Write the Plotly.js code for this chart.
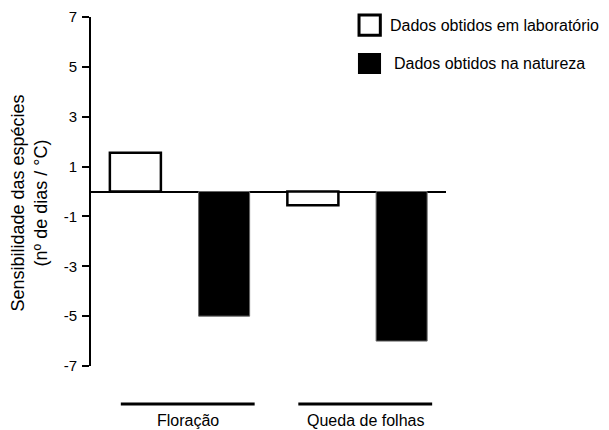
<!DOCTYPE html>
<html>
<head>
<meta charset="utf-8">
<script src="https://cdn.plot.ly/plotly-3.0.1.min.js"></script>
<style>html,body{margin:0;padding:0;background:#fff;}#chart{width:609px;height:430px;}</style>
</head>
<body>
<div id="chart"></div>
<script>
const categories = ["Floração", "Queda de folhas"];
const seriesNames = ["Dados obtidos em laboratório", "Dados obtidos na natureza"];
const labValues = [1.55, -0.55];
const natureValues = [-5.0, -6.0];
const yTickVals = [-7, -5, -3, -1, 1, 3, 5, 7];
const yTitle = "Sensibilidade das espécies<br>(nº de dias / °C)";

const FONT = "Arial, 'Liberation Sans', sans-serif";

const traces = [
  {
    type: "bar", name: seriesNames[0], x: categories, y: labValues,
    marker: {color: "#ffffff", line: {color: "#000000", width: 2.5}},
    showlegend: false, hoverinfo: "skip"
  },
  {
    type: "bar", name: seriesNames[1], x: categories, y: natureValues,
    marker: {color: "#000000", line: {color: "#666666", width: 1}},
    showlegend: false, hoverinfo: "skip"
  }
];

const shapes = [];
const annotations = [];
const shift = 0.045, half = 0.377;
categories.forEach((c, i) => {
  shapes.push({type: "line", xref: "x", yref: "paper",
    x0: i + shift - half, x1: i + shift + half, y0: -0.109, y1: -0.109,
    line: {color: "#000", width: 3}});
  annotations.push({xref: "x", yref: "paper", x: i + shift, y: -0.155,
    text: c, showarrow: false, xanchor: "center", yanchor: "middle",
    font: {family: FONT, size: 16, color: "#000"}});
});

// manual legend
shapes.push({type: "rect", xref: "paper", yref: "paper", x0: 0.755, x1: 0.815, y0: 0.948, y1: 1.006,
  fillcolor: "#fff", line: {color: "#000", width: 3}});
shapes.push({type: "rect", xref: "paper", yref: "paper", x0: 0.752, x1: 0.817, y0: 0.8367, y1: 0.8968,
  fillcolor: "#000", line: {color: "#000", width: 0}});
annotations.push({xref: "paper", yref: "paper", x: 0.836, y: 0.977, text: seriesNames[0],
  showarrow: false, xanchor: "left", yanchor: "middle", font: {family: FONT, size: 16, color: "#000"}});
annotations.push({xref: "paper", yref: "paper", x: 0.847, y: 0.866, text: seriesNames[1],
  showarrow: false, xanchor: "left", yanchor: "middle", font: {family: FONT, size: 16, color: "#000"}});

// y title
annotations.push({xref: "paper", yref: "paper", x: -0.176, y: 0.467, text: yTitle,
  textangle: -90, showarrow: false, xanchor: "center", yanchor: "middle",
  font: {family: FONT, size: 18, color: "#000"}});

const layout = {
  width: 609, height: 430,
  margin: {l: 91, r: 163, t: 17, b: 64, pad: 0},
  paper_bgcolor: "#fff", plot_bgcolor: "#fff",
  barmode: "group", bargap: 0, bargroupgap: 0.425,
  showlegend: false,
  font: {family: FONT, color: "#000"},
  xaxis: {
    type: "category", range: [-0.5, 1.5], showticklabels: false, showline: false,
    showgrid: false, zeroline: false, ticks: ""
  },
  yaxis: {
    range: [-7, 7], tickvals: yTickVals, ticktext: yTickVals.map(String),
    showline: true, linecolor: "#000", linewidth: 2,
    ticks: "outside", ticklen: 7, tickwidth: 2, tickcolor: "#000",
    showgrid: false, zeroline: true, zerolinecolor: "#000", zerolinewidth: 2,
    tickfont: {family: FONT, size: 15, color: "#000"}, ticklabelstandoff: 2
  },
  shapes: shapes,
  annotations: annotations
};

Plotly.newPlot("chart", traces, layout, {displayModeBar: false, staticPlot: true});
</script>
</body>
</html>
